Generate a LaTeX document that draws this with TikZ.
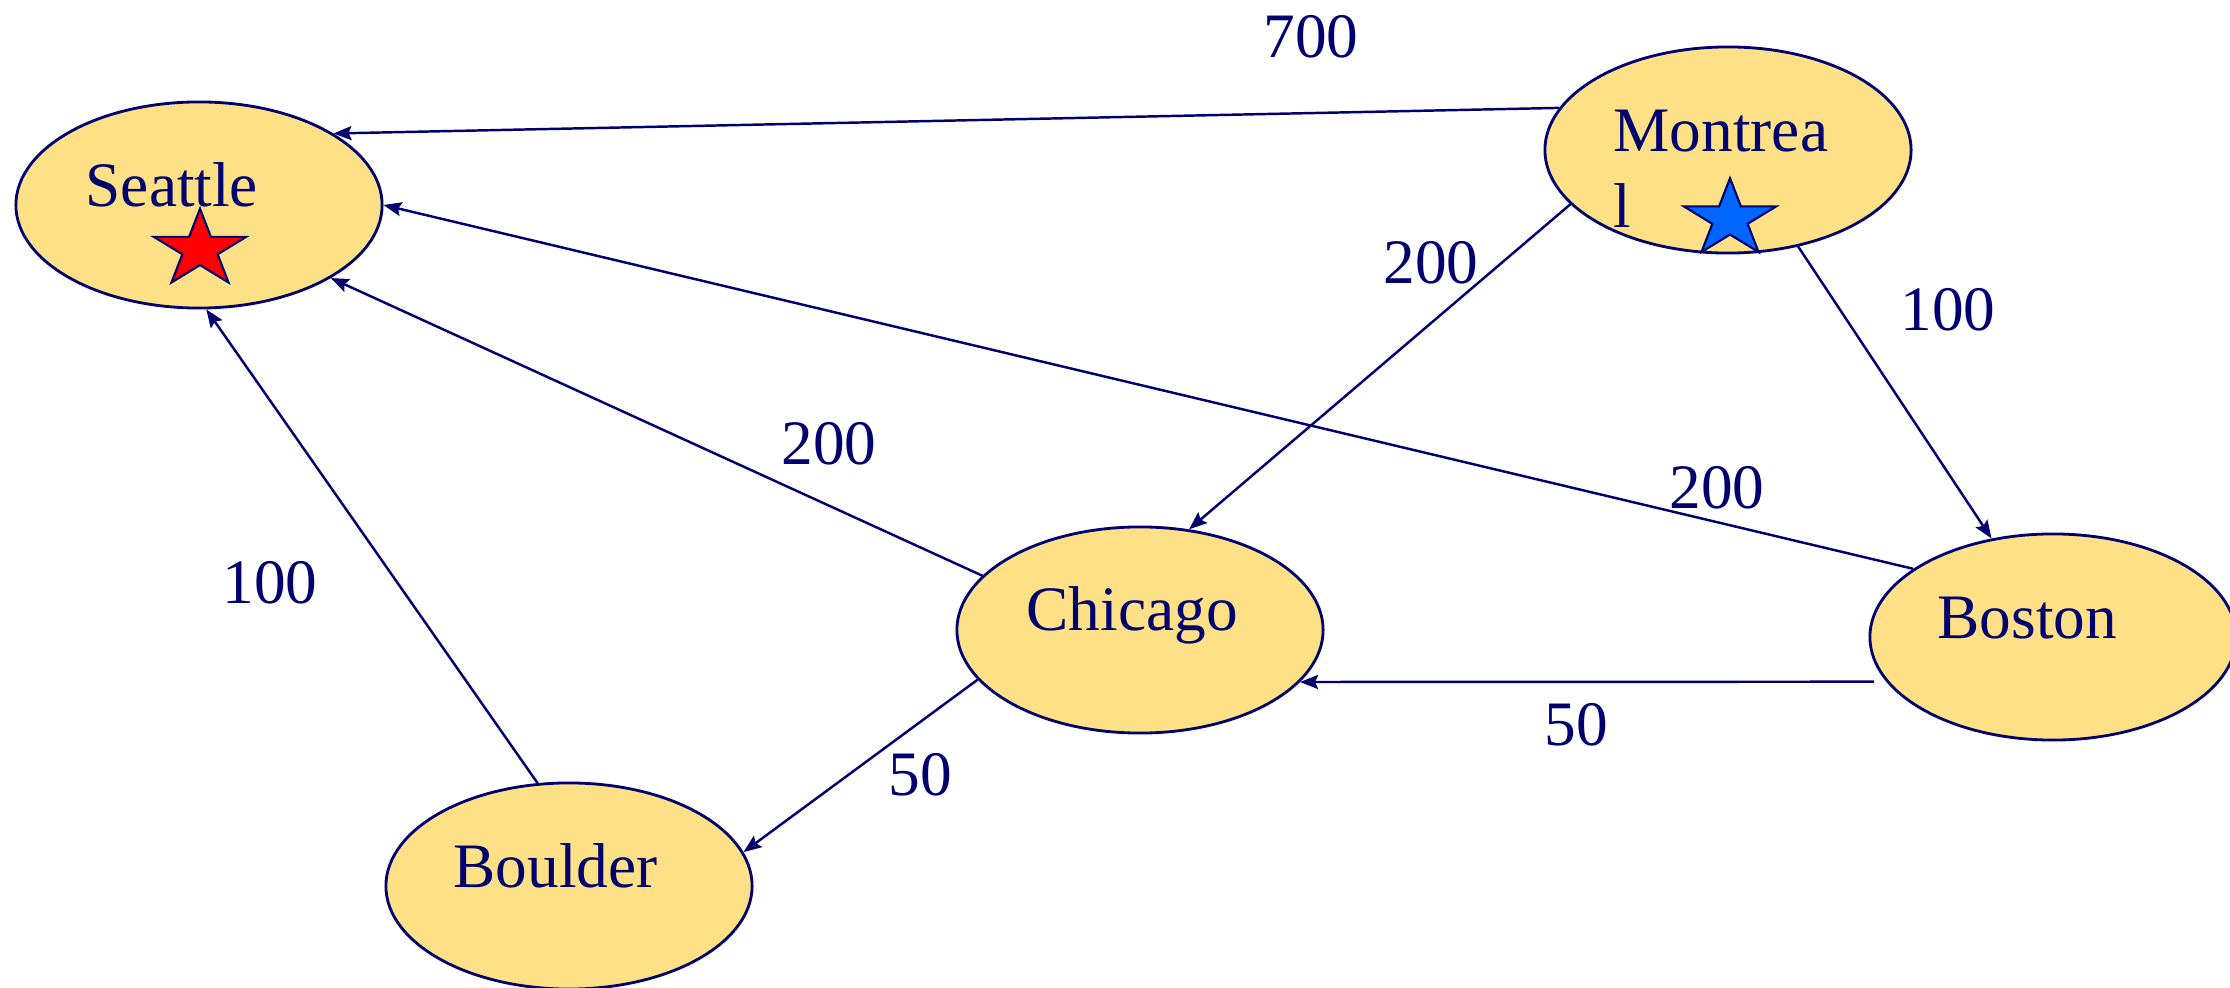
\documentclass[tikz,border=0pt]{standalone}
\usepackage{fontspec}
\setmainfont{Liberation Serif}
\usetikzlibrary{shapes.geometric,arrows.meta}
\definecolor{navy}{RGB}{0,0,110}
\definecolor{cityfill}{RGB}{254,224,134}
\definecolor{starblue}{RGB}{0,102,255}
\tikzset{
  city/.style={ellipse, draw=navy, line width=0.8pt, fill=cityfill, inner sep=0pt,
    minimum width=3.66cm, minimum height=2.06cm},
  cityname/.style={text=navy, inner sep=0pt, font=\fontsize{18}{21.6}\selectfont},
  wlabel/.style={text=navy, inner sep=0pt, font=\fontsize{18}{21.6}\selectfont},
  edge/.style={draw=navy, line width=0.7pt, -{Stealth[length=0.18cm, width=0.14cm, inset=0.03cm]}},
  mystar/.style={star, star points=5, star point ratio=2.618, draw=navy, line width=0.6pt,
    inner sep=0pt, minimum size=0.97cm, yscale=0.84, transform shape}
}
\begin{document}
\begin{tikzpicture}[x=0.01cm, y=-0.01cm]
\useasboundingbox (0,0) rectangle (2230,988);
% cities
\node[city] (sea) at (199,205) {};
\node[city] (mon) at (1728,150) {};
\node[city] (chi) at (1140,630) {};
\node[city] (bos) at (2053,637) {};
\node[city] (bou) at (569,886) {};
% names
\node[cityname, anchor=base west] (seat) at (85,207) {Seattle};
\node[cityname, anchor=north west, align=left] (mont) at (1613,109) {Montrea\\l};
\node[cityname, anchor=base west] (chit) at (1026,630) {Chicago};
\node[cityname, anchor=base west] (bost) at (1937,638) {Boston};
\node[cityname, anchor=base west] (bout) at (453,887) {Boulder};
% stars
\node[mystar, fill=red] (sstar) at (200,249.5) {};
\node[mystar, fill=starblue] (mstar) at (1730,219) {};
% edges
\draw[edge] (mon.166) -- (sea.28.5);
\draw[edge] (bos.154.5) -- (sea.0);
\draw[edge] (chi.161.7) -- (sea.-29.5);
\draw[edge] (bou.107.6) -- (sea.-86);
\draw[edge] (mon.199.7) -- (chi.64.8);
\draw[edge] (mon.-54.7) -- (bos.122.3);
\draw[edge, shorten <=0.12cm] (bos.195.7) -- (chi.-18.7);
\draw[edge] (chi.197.7) -- (bou.11);
% weights
\node[wlabel] (w1) at (1311,37) {700};
\node[wlabel] (w2) at (1717,488) {200};
\node[wlabel] (w3) at (829,444) {200};
\node[wlabel] (w4) at (270,583) {100};
\node[wlabel] (w5) at (1431,263) {200};
\node[wlabel] (w6) at (1948,310) {100};
\node[wlabel] (w7) at (1576,725) {50};
\node[wlabel] (w8) at (920,775) {50};
\end{tikzpicture}
\end{document}
